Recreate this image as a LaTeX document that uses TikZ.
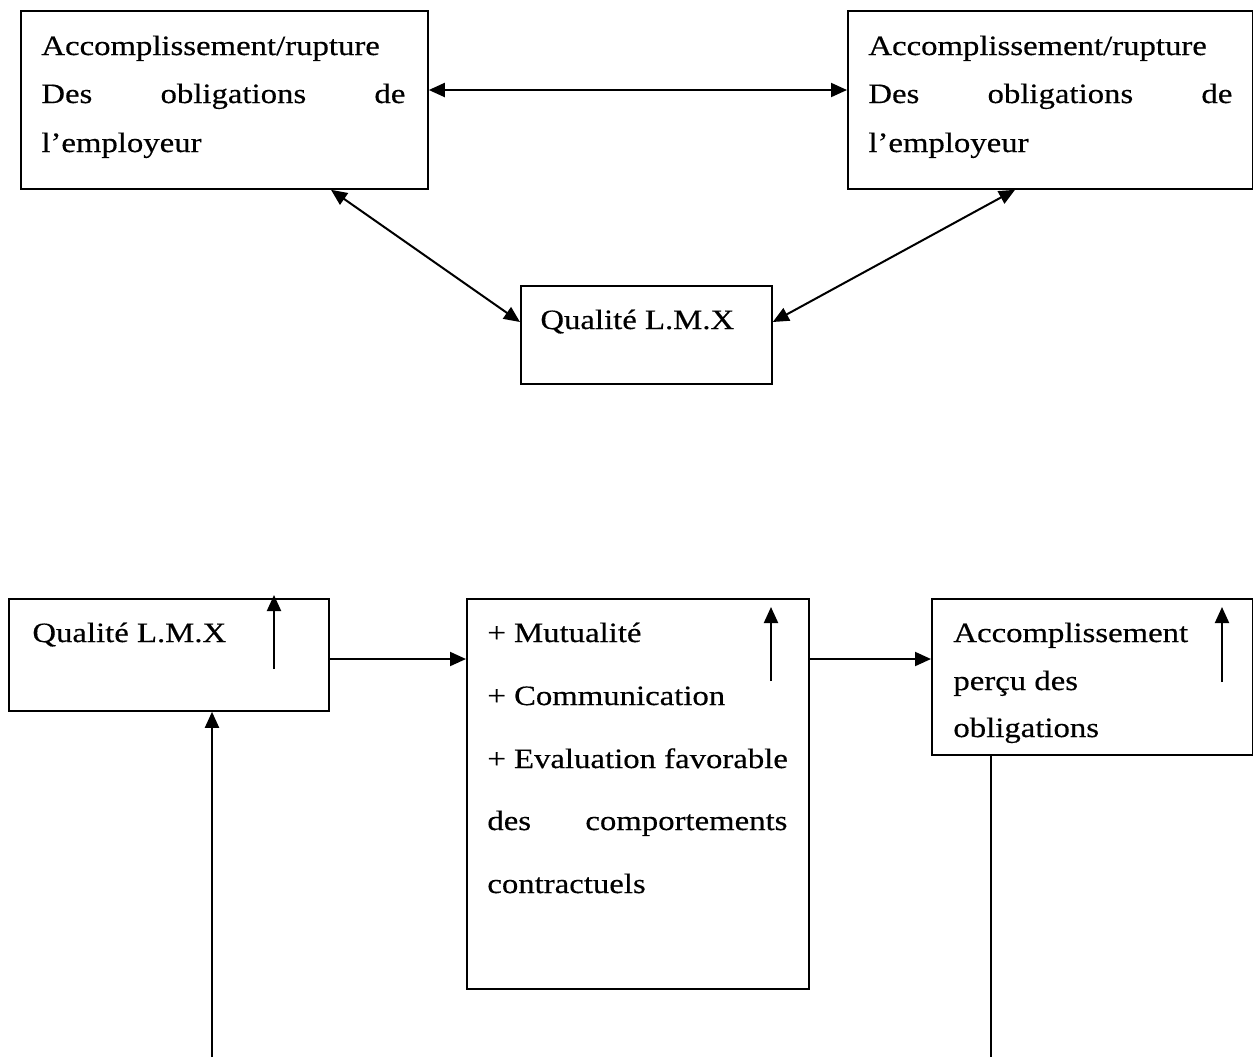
\documentclass[tikz,border=0pt]{standalone}
\usepackage{fontspec}
\setmainfont[FakeStretch=1.17,FakeBold=0.4]{Liberation Serif}
\usetikzlibrary{arrows.meta,calc}
\tikzset{
  box/.style={draw=black, line width=0.9pt, rectangle, inner sep=0pt, anchor=north west},
  txt/.style={inner sep=0pt, anchor=base west, font=\fontsize{14pt}{17pt}\selectfont},
  conn/.style={line width=1pt, -{Triangle[length=8pt,width=7pt]}},
  dconn/.style={line width=1pt, {Triangle[length=8pt,width=7pt]}-{Triangle[length=8pt,width=7pt]}},
  plain/.style={line width=0.7pt}
}
\begin{document}
\begin{tikzpicture}[x=0.5pt,y=-0.5pt]
\useasboundingbox (0,0) rectangle (1253,1057);
% top boxes
\node[box, minimum width=203.5pt, minimum height=89pt] (tl) at (20,10) {};
\node[box, minimum width=202.5pt, minimum height=89pt] (tr) at (847,10) {};
\node[box, minimum width=125.5pt, minimum height=49pt] (tq) at (520,285) {};
\node[txt] (tl1) at (41,55) {Accomplissement/rupture};
\node[txt] (tl2) at (41,103) {\makebox[182pt][s]{Des obligations de}};
\node[txt] (tl3) at (41,152) {l’employeur};
\node[txt] (tr1) at (868,55) {Accomplissement/rupture};
\node[txt] (tr2) at (868,103) {\makebox[182pt][s]{Des obligations de}};
\node[txt] (tr3) at (868,152) {l’employeur};
\node[txt] (tq1) at (540,329) {Qualité L.M.X};
% top connectors
\draw[dconn] ($(tl.north east)+(0,80)$) -- ($(tr.north west)+(0,80)$);
\draw[dconn] ($(tl.south west)+(311,0)$) -- ($(tq.north west)+(0,37)$);
\draw[dconn] ($(tr.south west)+(168,0)$) -- ($(tq.north east)+(0,37)$);
% bottom boxes
\node[box, minimum width=160pt, minimum height=56pt] (bq) at (8,598) {};
\node[box, minimum width=171pt, minimum height=195pt] (bm) at (466,598) {};
\node[box, minimum width=160.5pt, minimum height=78pt] (br) at (931,598) {};
\node[txt] (bq1) at (32,642) {Qualité L.M.X};
\node[txt] (bm1) at (487,642) {+ Mutualité};
\node[txt] (bm2) at (487,705) {+ Communication};
\node[txt] (bm3) at (487,768) {+ Evaluation favorable};
\node[txt] (bm4) at (487,830) {\makebox[150pt][s]{des comportements}};
\node[txt] (bm5) at (487,893) {contractuels};
\node[txt] (br1) at (953,642) {Accomplissement};
\node[txt] (br2) at (953,690) {perçu des};
\node[txt] (br3) at (953,737) {obligations};
% inner up arrows
\draw[conn] ($(bq.north west)+(266,71)$) -- ($(bq.north west)+(266,-3)$);
\draw[conn] ($(bm.north west)+(305,83)$) -- ($(bm.north west)+(305,9)$);
\draw[conn] ($(br.north west)+(291,84)$) -- ($(br.north west)+(291,9)$);
% bottom connectors
\draw[conn] ($(bq.north east)+(0,61)$) -- ($(bm.north west)+(0,61)$);
\draw[conn] ($(bm.north east)+(0,61)$) -- ($(br.north west)+(0,61)$);
\coordinate (lb) at (212,1057);
\coordinate (rb) at (991,1057);
\draw[conn] (lb) -- (lb |- bq.south);
\draw[plain] (rb |- br.south) -- (rb);
\end{tikzpicture}
\end{document}
